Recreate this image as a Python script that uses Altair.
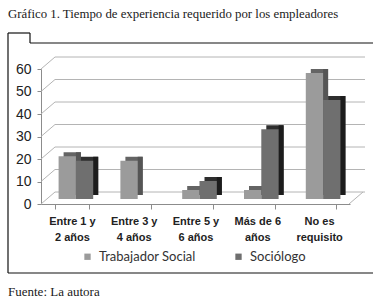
import altair as alt
import pandas as pd

# ---- data ----
categories = ["Entre 1 y\n2 años", "Entre 3 y\n4 años", "Entre 5 y\n6 años", "Más de 6\naños", "No es\nrequisito"]
series_names = ["Trabajador Social", "Sociólogo"]
trabajador_social = [19, 17, 4, 4, 56]
sociologo = [17, 0, 8, 31, 44]
y_ticks = [0, 10, 20, 30, 40, 50, 60]
title_text = "Gráfico 1. Tiempo de experiencia requerido por los empleadores"
footer_text = "Fuente: La autora"

rows = []
for c, a, b in zip(categories, trabajador_social, sociologo):
    rows.append({"cat": c, "series": series_names[0], "value": a})
    rows.append({"cat": c, "series": series_names[1], "value": b})
df = pd.DataFrame(rows)
ticks_df = pd.DataFrame({"value": y_ticks})

W, H = 309, 135
DEPTH_X, DEPTH_Y = 14, -12
GRID = "#b4b4b4"
AXIS = "#8c8c8c"
front_colors = ["#9b9b9b", "#6f6f6f"]
top_colors = ["#646464", "#2e2e2e"]
side_colors = ["#555555", "#1c1c1c"]

x_axis = alt.Axis(
    labelExpr="split(datum.label, '\\n')", labelAngle=0,
    labelFont="Liberation Sans", labelFontSize=11, labelFontWeight="bold",
    labelColor="#222222", labelPadding=6, labelLineHeight=16,
    tickBand="extent", tickSize=5, tickColor=AXIS, domainColor=AXIS,
    grid=False,
)
y_axis = alt.Axis(
    values=y_ticks, grid=False, tickSize=4, tickColor=AXIS, domainColor=AXIS,
    labelFont="Liberation Sans", labelFontSize=14, labelColor="#222222", labelPadding=6,
)
y_scale = alt.Scale(domain=[0, 60], nice=False, zero=True)

def x_enc():
    return alt.X("cat:N", sort=categories, title=None,
                 scale=alt.Scale(paddingInner=0.44, paddingOuter=0.22), axis=x_axis)

def y_enc():
    return alt.Y("value:Q", title=None, scale=y_scale, axis=y_axis)

bar_w = W / 5 * 0.56 / 2
DX, DY = 5, 4  # depth of the bars' top/side faces
layers = []

# back wall gridlines and the diagonals joining them to the front axis
layers.append(alt.Chart(ticks_df).mark_rule(color=GRID, strokeWidth=1, yOffset=DEPTH_Y).encode(
    y=y_enc(), x=alt.value(DEPTH_X), x2=alt.value(W + DEPTH_X + 1)))
layers.append(alt.Chart(ticks_df).mark_rule(color=GRID, strokeWidth=1, y2Offset=DEPTH_Y).encode(
    y=y_enc(), y2=alt.Y2("value"), x=alt.value(0), x2=alt.value(DEPTH_X)))
layers.append(alt.Chart(ticks_df.head(1)).mark_rule(color=GRID, strokeWidth=1, y2Offset=DEPTH_Y).encode(
    y=y_enc(), y2=alt.Y2("value"), x=alt.value(W - 1), x2=alt.value(W - 1 + DEPTH_X)))

legend = alt.Legend(
    title=None, orient="none", legendX=40, legendY=181, direction="horizontal",
    symbolType="square", symbolSize=40, symbolStrokeWidth=0,
    labelFont="Lato", labelFontSize=13, labelColor="#333333",
    labelOffset=5, columnPadding=36, padding=0,
)

for i, name in enumerate(series_names):
    sub = alt.Chart(df).transform_filter(alt.datum.series == name)
    front_x = 4 + (-bar_w / 2 if i == 0 else bar_w / 2)
    # top face (shifted back and up)
    layers.append(sub.mark_bar(size=bar_w, xOffset=front_x + DX, yOffset=-5 - DY, y2Offset=-5 - DY,
                               color=top_colors[i]).encode(x=x_enc(), y=y_enc()))
    # side face
    layers.append(sub.mark_bar(size=DX, xOffset=front_x + bar_w / 2 + DX / 2, yOffset=-5 - DY,
                               y2Offset=-5 - DY / 2, color=side_colors[i]).encode(x=x_enc(), y=y_enc()))
    # front face
    layers.append(sub.mark_bar(size=bar_w, xOffset=front_x, yOffset=-5, y2Offset=-5).encode(
        x=x_enc(), y=y_enc(),
        color=alt.Color("series:N", sort=series_names,
                        scale=alt.Scale(domain=series_names, range=front_colors),
                        legend=legend)))

# frame around the chart (decorative)
one = pd.DataFrame({"k": [0]})
frame_style = dict(color="#111111", strokeWidth=1.2)
layers += [
    alt.Chart(one).mark_rule(**frame_style).encode(x=alt.value(-33), y=alt.value(-36), y2=alt.value(204)),
    alt.Chart(one).mark_rule(**frame_style).encode(x=alt.value(-33), x2=alt.value(-11), y=alt.value(-36)),
    alt.Chart(one).mark_rule(**frame_style).encode(x=alt.value(-11), y=alt.value(-36), y2=alt.value(-26)),
    alt.Chart(one).mark_rule(**frame_style).encode(x=alt.value(-11), x2=alt.value(332), y=alt.value(-26)),
    alt.Chart(one).mark_rule(**frame_style).encode(x=alt.value(-33), x2=alt.value(332), y=alt.value(204)),
]

layers.append(alt.Chart(pd.DataFrame({"t": [title_text]})).mark_text(
    align="left", baseline="alphabetic", font="Liberation Serif", fontSize=12.8, color="#1a1a1a"
).encode(text="t:N", x=alt.value(-33), y=alt.value(-51)))
layers.append(alt.Chart(pd.DataFrame({"t": [footer_text]})).mark_text(
    align="left", baseline="alphabetic", font="Liberation Serif", fontSize=13, color="#1a1a1a"
).encode(text="t:N", x=alt.value(-33), y=alt.value(227)))

chart = alt.layer(*layers).properties(
    width=W, height=H,
    autosize=alt.AutoSizeParams(type="none"),
    padding={"left": 41, "top": 69, "right": 32, "bottom": 97},
    background="white",
).configure_view(stroke=None)

chart.save("out.html", embed_options={"renderer": "svg", "actions": False})
